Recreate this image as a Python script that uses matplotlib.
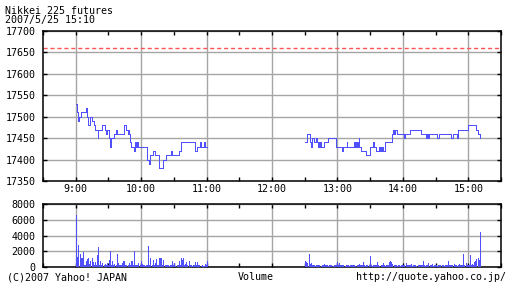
import numpy as np
import matplotlib
matplotlib.use("Agg")
import matplotlib.pyplot as plt

# price steps, minutes after 9:00 -> price (yen)
am_t = [0, 0.9, 1.8, 3.0, 4.6, 9.5, 10.7, 11.5, 13.1, 14.7, 16.5, 17.7, 20.0, 20.8, 23.9, 26.9, 27.8, 28.6,
        30.8, 31.5, 32.2, 35.5, 37.0, 38.2, 44.6, 46.2, 47.7, 48.3, 49.0, 49.8, 51.0, 53.2, 54.0, 55.3, 56.5,
        57.5, 65.7, 67.3, 68.4, 70.9, 72.5, 76.4, 80.1, 83.2, 87.1, 88.0, 95.0, 96.2, 97.0, 109.5, 111.6,
        114.0, 115.0, 117.7, 118.7, 120.0]
am_p = [17530, 17510, 17490, 17500, 17510, 17520, 17500, 17480, 17500, 17490, 17480, 17470, 17450, 17470,
        17480, 17470, 17460, 17470, 17450, 17430, 17450, 17460, 17470, 17460, 17480, 17470, 17460, 17470,
        17460, 17440, 17430, 17420, 17440, 17430, 17440, 17430, 17400, 17390, 17410, 17420, 17410, 17380,
        17400, 17410, 17420, 17410, 17420, 17430, 17440, 17420, 17430, 17440, 17430, 17440, 17430, 17430]

pm_t = [210, 212.5, 214.9, 215.8, 216.4, 218.5, 220.0, 221.0, 222.3, 223.5, 224.0, 224.6, 225.2, 227.8,
        230.9, 238.5, 244.0, 245.5, 248.5, 249.1, 255.2, 256.0, 256.8, 257.6, 258.3, 258.9, 259.5, 260.1,
        261.4, 266.0, 269.7, 273.0, 273.6, 275.2, 278.2, 279.0, 279.8, 280.6, 281.4, 282.2, 283.5, 289.6,
        291.1, 292.0, 293.0, 294.8, 300.9, 302.4, 306.1, 316.2, 321.4, 322.3, 323.2, 324.4, 331.5, 333.0,
        344.6, 345.8, 349.8, 350.7, 359.6, 367.2, 369.0, 370.3]
pm_p = [17440, 17460, 17440, 17430, 17450, 17440, 17450, 17440, 17430, 17440, 17430, 17440, 17430, 17440,
        17450, 17430, 17420, 17430, 17440, 17430, 17440, 17430, 17440, 17430, 17440, 17430, 17450, 17430,
        17420, 17410, 17430, 17440, 17430, 17420, 17430, 17420, 17430, 17420, 17430, 17420, 17440, 17460,
        17470, 17460, 17470, 17460, 17450, 17460, 17470, 17460, 17450, 17460, 17450, 17460, 17450, 17460,
        17450, 17460, 17450, 17470, 17480, 17470, 17460, 17450]

prev_close = 17660

# volume per minute, 9:00-11:00 and 12:30-15:10
am_vol = [6600, 1300, 2800, 1700, 1100, 1200, 1900, 300, 200, 800, 1000, 1200, 400, 800, 1100, 600, 300, 600,
          200, 1500, 2500, 300, 700, 200, 500, 300, 400, 200, 500, 300, 900, 2000, 300, 800, 200, 400, 300,
          1600, 500, 200, 300, 200, 500, 700, 800, 200, 300, 200, 500, 300, 700, 800, 200, 2000, 300, 300,
          200, 500, 200, 800, 400, 200, 300, 100, 200, 300, 2700, 200, 1100, 300, 900, 200, 500, 1000, 200,
          300, 1100, 1200, 1100, 300, 900, 200, 300, 200, 300, 100, 200, 300, 800, 200, 500, 100, 200, 300,
          700, 300, 1200, 900, 1200, 300, 400, 600, 200, 700, 200, 300, 100, 300, 200, 600, 200, 600, 200,
          300, 100, 200, 100, 100, 400, 200, 800]
pm_vol = [800, 600, 500, 1600, 400, 500, 300, 200, 300, 100, 200, 300, 200, 200, 100, 300, 200, 400, 200,
          300, 200, 100, 300, 200, 200, 100, 300, 200, 200, 600, 200, 550, 300, 200, 300, 200, 100, 200, 300,
          200, 100, 200, 200, 200, 300, 200, 100, 200, 200, 400, 200, 300, 200, 600, 200, 100, 200, 300, 200,
          1350, 200, 100, 200, 200, 300, 200, 600, 200, 100, 200, 200, 500, 200, 100, 200, 200, 200, 600, 700,
          600, 400, 300, 200, 200, 100, 200, 200, 100, 200, 300, 200, 200, 500, 300, 200, 200, 300, 400, 100,
          200, 300, 200, 100, 200, 200, 200, 200, 200, 700, 200, 100, 200, 200, 500, 200, 200, 400, 100, 200,
          300, 200, 100, 200, 200, 200, 300, 200, 100, 200, 200, 200, 700, 200, 200, 200, 200, 400, 200, 200,
          100, 200, 400, 200, 200, 200, 1600, 200, 500, 300, 200, 200, 1500, 200, 400, 300, 600, 800, 1000,
          1200, 900, 4500]

hour_labels = ['9:00', '10:00', '11:00', '12:00', '13:00', '14:00', '15:00']

blue = '#5050ff'
gridc = '#a5a5a5'
mono = 'DejaVu Sans Mono'
fs = 7.2

fig = plt.figure(figsize=(5.12, 2.88), dpi=100)
fig.patch.set_facecolor('white')
ax = fig.add_axes([43/512, 1-181/288, 458/512, 150/288])
axv = fig.add_axes([43/512, 1-267/288, 458/512, 63/288])

# price chart - 1px line, no antialiasing so it looks like the crisp gif
ax.step(am_t, am_p, where='post', color=blue, lw=0.72, zorder=3, antialiased=False)
ax.step(pm_t, pm_p, where='post', color=blue, lw=0.72, zorder=3, antialiased=False)
ax.axhline(prev_close, color='#ff5555', lw=1.0, ls=(0, (3, 2)), zorder=2)
ax.set_ylim(17350, 17700)
ax.set_yticks(np.arange(17350, 17701, 50))

# volume chart, one 1px column per minute
am_x = np.arange(len(am_vol)) + 0.5
pm_x = 210 + np.arange(len(pm_vol)) + 0.5
axv.vlines(am_x, 0, am_vol, color=blue, lw=0.6, zorder=3, antialiased=False)
axv.vlines(pm_x, 0, pm_vol, color=blue, lw=0.6, zorder=3, antialiased=False)
axv.set_ylim(0, 8000)
axv.set_yticks([0, 2000, 4000, 6000, 8000])

for a in (ax, axv):
    a.set_xlim(-30, 390)
    a.set_xticks(np.arange(0, 361, 60))
    a.set_xticks(np.arange(-30, 391, 30), minor=True)
    a.grid(True, which='major', color=gridc, lw=1.0, zorder=1)
    a.set_axisbelow(True)
    a.tick_params(which='both', direction='in', length=3, width=1.0, top=True, right=True,
                  labelsize=fs, pad=5.5, colors='black')
    for sp in a.spines.values():
        sp.set_linewidth(1.1)
    for lab in a.get_yticklabels():
        lab.set_family(mono)

ax.set_xticklabels(hour_labels, family=mono, fontsize=fs)
ax.tick_params(axis='x', pad=2.5)
axv.set_xticklabels([])

fig.text(5/512, 1-11/288, 'Nikkei 225 futures', family=mono, fontsize=fs, va='center', ha='left')
fig.text(5/512, 1-20/288, '2007/5/25 15:10', family=mono, fontsize=fs, va='center', ha='left')
fig.text(7/512, 1-277.5/288, '(C)2007 Yahoo! JAPAN', family=mono, fontsize=fs, va='center', ha='left')
fig.text(256/512, 1-277.5/288, 'Volume', family=mono, fontsize=fs, va='center', ha='center')
fig.text(506/512, 1-277.5/288, 'http://quote.yahoo.co.jp/', family=mono, fontsize=fs, va='center', ha='right')

fig.savefig('out.png', dpi=100)
